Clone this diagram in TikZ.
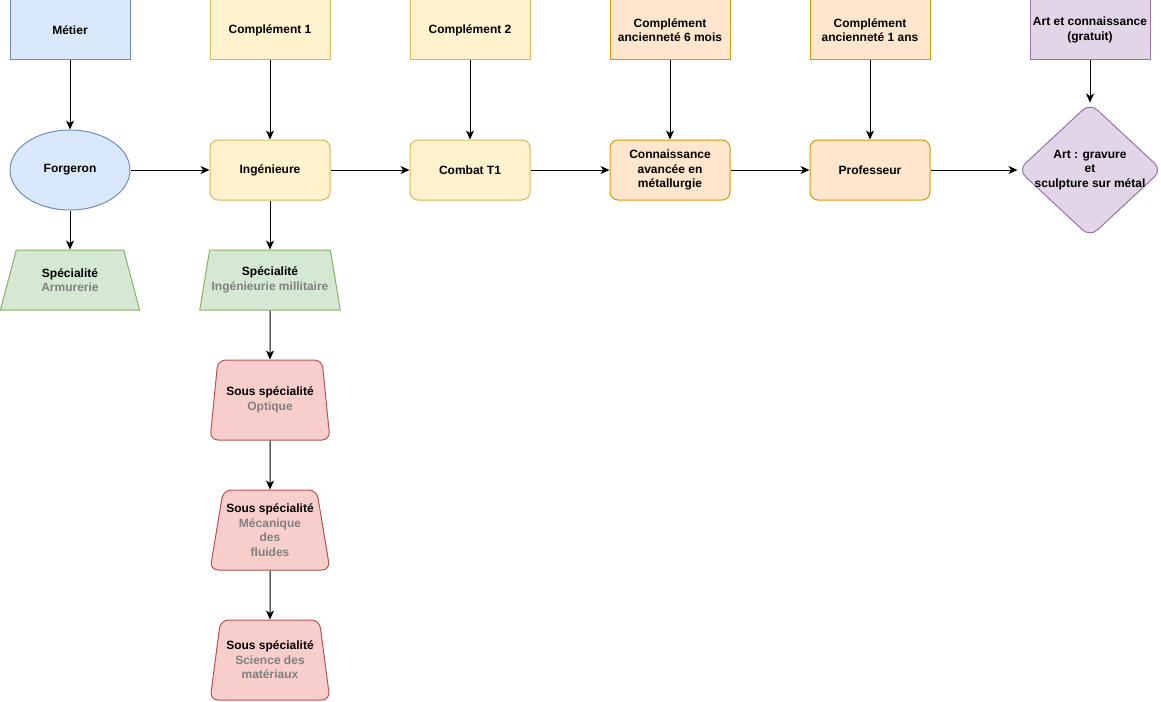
\documentclass[tikz,border=0pt]{standalone}
\usepackage{fontspec}
\setmainfont{Liberation Sans}
\usetikzlibrary{arrows.meta,shapes.geometric}
\definecolor{bluefill}{HTML}{DAE8FC}
\definecolor{bluedraw}{HTML}{6C8EBF}
\definecolor{yellowfill}{HTML}{FFF2CC}
\definecolor{yellowdraw}{HTML}{D6B656}
\definecolor{orangefill}{HTML}{FFE6CC}
\definecolor{orangedraw}{HTML}{D79B00}
\definecolor{purplefill}{HTML}{E1D5E7}
\definecolor{purpledraw}{HTML}{9673A6}
\definecolor{greenfill}{HTML}{D5E8D4}
\definecolor{greendraw}{HTML}{82B366}
\definecolor{redfill}{HTML}{F8CECC}
\definecolor{reddraw}{HTML}{B85450}
\definecolor{subgray}{HTML}{808080}

\begin{document}
\begin{tikzpicture}[x=1pt, y=-1pt,
  box/.style={draw, line width=1pt, minimum width=120pt, minimum height=60pt, inner sep=2pt,
    align=center, font=\fontsize{12}{14.5}\selectfont\bfseries},
  rbox/.style={box, rounded corners=8pt},
  bluebox/.style={fill=bluefill, draw=bluedraw},
  yellowbox/.style={fill=yellowfill, draw=yellowdraw},
  orangebox/.style={fill=orangefill, draw=orangedraw},
  purplebox/.style={fill=purplefill, draw=purpledraw},
  spec/.style={box, trapezium, trapezium stretches=true, trapezium left angle=71.6,
    trapezium right angle=71.6, minimum width=140pt, fill=greenfill, draw=greendraw},
  sousspec/.style={box, trapezium, trapezium stretches=true, trapezium left angle=77,
    trapezium right angle=77, minimum width=120pt, minimum height=80pt, rounded corners=8pt,
    fill=redfill, draw=reddraw},
  arr/.style={-{Stealth[length=9pt, width=8pt, inset=2.5pt]}, line width=1pt}]
  \useasboundingbox (0,0) rectangle (1161,701);

  % Top row
  \node[box, bluebox] (metier) at (70,30) {Métier};
  \node[box, yellowbox] (compl1) at (270,30) {Complément 1};
  \node[box, yellowbox] (compl2) at (470,30) {Complément 2};
  \node[box, orangebox] (anc6) at (670,30) {Complément\\ancienneté 6 mois};
  \node[box, orangebox] (anc1) at (870,30) {Complément\\ancienneté 1 ans};
  \node[box, purplebox] (artconn) at (1090,30) {Art et connaissance\\(gratuit)};

  % Main row
  \node[box, bluebox, ellipse, inner sep=0pt, minimum height=80pt] (forgeron) at (70,170) {Forgeron};
  \node[rbox, yellowbox] (inge) at (270,170) {Ingénieure};
  \node[rbox, yellowbox] (combat) at (470,170) {Combat T1};
  \node[rbox, orangebox] (metal) at (670,170) {Connaissance\\avancée en\\métallurgie};
  \node[rbox, orangebox] (prof) at (870,170) {Professeur};
  \node[box, purplebox, diamond, inner sep=-8pt, minimum width=144pt, minimum height=134pt,
    rounded corners=10pt] (gravure) at (1090,170) {Art : gravure\\et\\sculpture sur métal};

  % Specialities
  \node[spec] (armur) at (70,280) {Spécialité\\\textcolor{subgray}{Armurerie}};
  \node[spec] (milit) at (270,280) {Spécialité\\\textcolor{subgray}{Ingénieurie millitaire}};
  \node[sousspec] (optique) at (270,400) {Sous spécialité\\\textcolor{subgray}{Optique}};
  \node[sousspec] (fluides) at (270,530) {Sous spécialité\\\textcolor{subgray}{Mécanique}\\\textcolor{subgray}{des}\\\textcolor{subgray}{fluides}};
  \node[sousspec] (materiaux) at (270,660) {Sous spécialité\\\textcolor{subgray}{Science des}\\\textcolor{subgray}{matériaux}};

  % Arrows
  \draw[arr] (metier) -- (forgeron);
  \draw[arr] (forgeron) -- (armur);
  \draw[arr] (forgeron) -- (inge);
  \draw[arr] (compl1) -- (inge);
  \draw[arr] (inge) -- (milit);
  \draw[arr] (milit) -- (optique);
  \draw[arr] (optique) -- (fluides);
  \draw[arr] (fluides) -- (materiaux);
  \draw[arr] (inge) -- (combat);
  \draw[arr] (compl2) -- (combat);
  \draw[arr] (combat) -- (metal);
  \draw[arr] (anc6) -- (metal);
  \draw[arr] (metal) -- (prof);
  \draw[arr] (anc1) -- (prof);
  \draw[arr] (prof) -- (gravure);
  \draw[arr] (artconn) -- (gravure);
\end{tikzpicture}
\end{document}
